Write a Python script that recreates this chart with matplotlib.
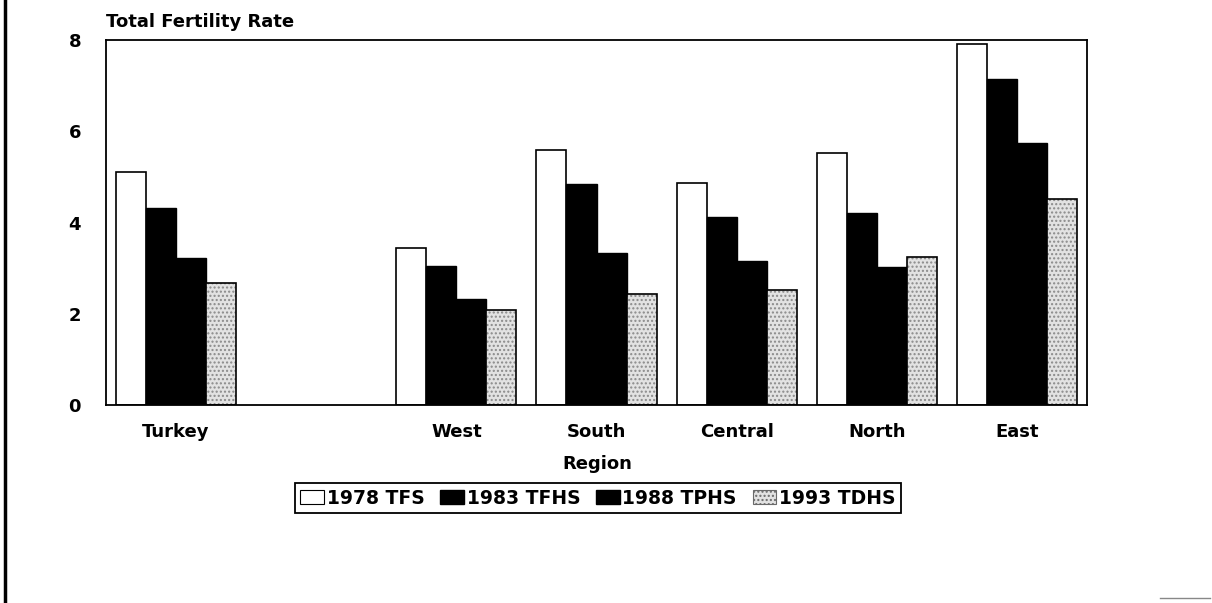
import matplotlib
matplotlib.use("Agg")
import matplotlib.pyplot as plt
from matplotlib.lines import Line2D
from matplotlib.patches import Patch
import numpy as np

plt.rcParams['font.family'] = ['DejaVu Sans']
plt.rcParams['font.weight'] = 'bold'

regions = ["Turkey", "", "West", "South", "Central", "North", "East"]
surveys = ["1978 TFS", "1983 TFHS", "1988 TPHS", "1993 TDHS"]
tfs_1978 = [5.1, np.nan, 3.45, 5.6, 4.87, 5.53, 7.92]
tfhs_1983 = [4.32, np.nan, 3.05, 4.85, 4.12, 4.21, 7.15]
tphs_1988 = [3.22, np.nan, 2.32, 3.33, 3.16, 3.03, 5.75]
tdhs_1993 = [2.68, np.nan, 2.08, 2.43, 2.52, 3.25, 4.52]

fig = plt.figure(figsize=(12.12, 6.03), dpi=100)
ax = fig.add_axes([106 / 1212, 1 - 405 / 603, (1087 - 106) / 1212, (405 - 40) / 603])

x = np.arange(len(regions))
w = 0.2143
series = [tfs_1978, tfhs_1983, tphs_1988, tdhs_1993]
for i, vals in enumerate(series):
    pos = x + (i - 1.5) * w
    if i == 0:
        ax.bar(pos, vals, w, color="white", edgecolor="black", linewidth=1.2)
    elif i < 3:
        ax.bar(pos, vals, w, color="black", edgecolor="black", linewidth=1.0)
    else:
        ax.bar(pos, vals, w, color="#e2e2e2", edgecolor="#8a8a8a", hatch="....", linewidth=0)
        ax.bar(pos, vals, w, fill=False, edgecolor="black", linewidth=1.2)

ax.set_xlim(-0.5, 6.5)
ax.set_ylim(0, 8)
ax.set_yticks([0, 2, 4, 6, 8])
ax.set_xticks(x)
ax.set_xticklabels(regions, fontsize=13)
ax.tick_params(axis="x", length=0, pad=13)
ax.tick_params(axis="y", length=0, pad=18, labelsize=13)
for s in ax.spines.values():
    s.set_linewidth(1.3)

fig.text(106 / 1212, 1 - 27 / 603, "Total Fertility Rate", fontsize=13, va="baseline", ha="left")
fig.text(597 / 1212, 1 - 464 / 603, "Region", fontsize=13, ha="center", va="center")

handles = [
    Patch(facecolor="white", edgecolor="black", linewidth=0.8),
    Patch(facecolor="black", edgecolor="black"),
    Patch(facecolor="black", edgecolor="black"),
    Patch(facecolor="#e2e2e2", edgecolor="#6a6a6a", hatch="....", linewidth=0.8),
]
leg = fig.legend(handles, surveys, loc="center", bbox_to_anchor=(598 / 1212, 1 - 498 / 603),
                 ncol=4, frameon=True, fancybox=False, edgecolor="black", framealpha=1,
                 fontsize=13.5, handlelength=1.25, handleheight=0.7, handletextpad=0.15,
                 columnspacing=0.85, borderpad=0.3, borderaxespad=0)
leg.get_frame().set_linewidth(1.3)

# page border from the scan
fig.add_artist(Line2D([5 / 1212, 5 / 1212], [0, 1], color="black", linewidth=2.5))
fig.add_artist(Line2D([1160 / 1212, 1210 / 1212], [1 - 598 / 603, 1 - 598 / 603], color="#888888", linewidth=1))

fig.savefig("out.png", dpi=100)
